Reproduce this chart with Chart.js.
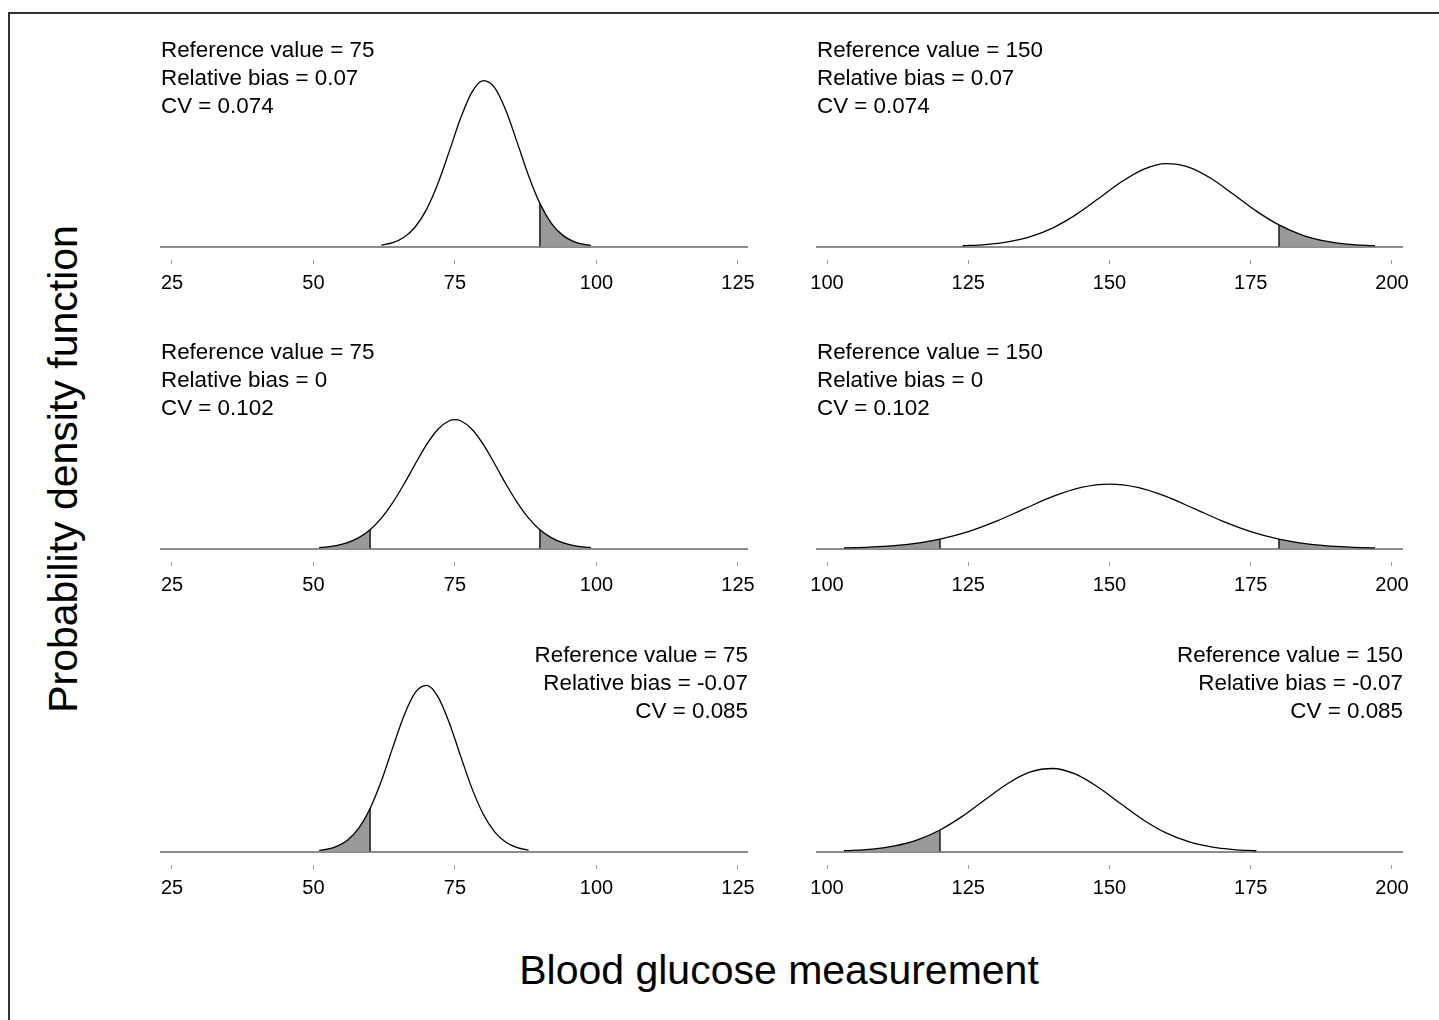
<!DOCTYPE html>
<html>
<head>
<meta charset="utf-8">
<script src="https://cdn.jsdelivr.net/npm/chart.js@4.4.1/dist/chart.umd.min.js"></script>
<style>
html,body{margin:0;padding:0;background:#fff;width:1439px;height:1020px;overflow:hidden;}
body{position:relative;font-family:"Liberation Sans",Arial,Helvetica,sans-serif;color:#000;}
#frame{position:absolute;left:8px;top:12px;width:1500px;height:1100px;border-top:2px solid #333;border-left:2px solid #333;box-sizing:border-box;}
.pc{position:absolute;}
#xt{position:absolute;left:0;top:950px;width:1558px;text-align:center;font-size:41px;line-height:41px;white-space:nowrap;}
#yt{position:absolute;left:63px;top:469px;font-size:41px;line-height:41px;white-space:nowrap;transform:translate(-50%,-50%) rotate(-90deg);}
</style>
</head>
<body>
<div id="frame"></div>
<div id="yt">Probability density function</div>
<div id="xt">Blood glucose measurement</div>
<script>
// ---- Data (density values along each curve) ----
const tlX = [62,64,66,68,70,72,74,76,78,80,82,84,86,88,90,92,94,96,98,99];
const tlY = [0.000598,0.001591,0.003776,0.008003,0.01515,0.02560,0.03861,0.05200,0.06252,0.06712,0.06433,0.05503,0.04204,0.02867,0.01745,0.009486,0.004604,0.001995,0.000771,0.000460];

const trX = [124,128,132,136,140,144,148,152,156,160,164,168,172,176,180,184,188,192,196,197];
const trY = [0.000299,0.000795,0.001888,0.004001,0.007575,0.01280,0.01930,0.02600,0.03126,0.03356,0.03216,0.02752,0.02102,0.01433,0.008727,0.004743,0.002302,0.000997,0.000386,0.000299];

const mlX = [51,52,54,56,58,60,62,64,66,68,70,72,74,75,76,78,80,82,84,86,88,90,92,94,96,98,99];
const mlY = [0.000380,0.000568,0.001205,0.002386,0.004414,0.007629,0.01231,0.01855,0.02610,0.03431,0.04212,0.04829,0.05171,0.05215,0.05171,0.04829,0.04212,0.03431,0.02610,0.01855,0.01231,0.007629,0.004414,0.002386,0.001205,0.000568,0.000380];

const mrX = [103,105,110,115,120,125,130,135,140,145,150,155,160,165,170,175,180,185,190,195,197];
const mrY = [0.000233,0.000345,0.000855,0.001905,0.003815,0.006863,0.01110,0.01612,0.02106,0.02472,0.026075,0.02472,0.02106,0.01612,0.01110,0.006863,0.003815,0.001905,0.000855,0.000345,0.000233];

const blX = [51,52,54,56,58,60,62,64,66,68,70,72,74,76,78,80,82,84,86,88];
const blY = [0.000453,0.000761,0.001974,0.004571,0.009441,0.01741,0.02863,0.04204,0.05509,0.06442,0.06723,0.06261,0.05205,0.03860,0.02556,0.01510,0.007960,0.003746,0.001573,0.000589];

const brX = [103,104,108,112,116,120,124,128,132,136,140,144,148,152,156,160,164,168,172,176];
const brY = [0.000295,0.000380,0.000987,0.002285,0.004720,0.008703,0.01431,0.02102,0.02754,0.03221,0.03361,0.03130,0.02602,0.01930,0.01278,0.007549,0.003980,0.001873,0.000786,0.000295];

const leftTicks = [25,50,75,100,125];
const rightTicks = [100,125,150,175,200];
const referenceValues = [75,150];
const relativeBiases = [0.07,0,-0.07];
const cvValues = [0.074,0.102,0.085];
const lowerLimits = [60,120];
const upperLimits = [90,180];

// ---- Layout ----
const FONT = '"Liberation Sans", Arial, Helvetica, sans-serif';
const PX_PER_UNIT = 2470;         // vertical pixels per density unit
const rowTops = [20,322,625];
const colDefs = [
  {left:130, width:648, xmin:22.88, xmax:126.77, ticks:leftTicks},
  {left:786, width:647, xmin:98.05, xmax:201.95, ticks:rightTicks}
];
const CANVAS_H = 282;
const series = [[ [tlX,tlY],[trX,trY] ], [ [mlX,mlY],[mrX,mrY] ], [ [blX,blY],[brX,brY] ]];

const notesPlugin = {
  id:'notes',
  afterDraw(chart){
    const o = chart.options.plugins.notes;
    if(!o) return;
    const ctx = chart.ctx;
    ctx.save();
    ctx.font = '22.4px ' + FONT;
    ctx.fillStyle = '#000';
    ctx.textBaseline = 'alphabetic';
    ctx.textAlign = o.align;
    const x = o.align === 'left' ? chart.chartArea.left + 1 : chart.chartArea.right;
    o.lines.forEach((t,i)=>{ ctx.fillText(t, x, o.baselines[i]); });
    ctx.restore();
  }
};

for(let r=0;r<3;r++){
  for(let c=0;c<2;c++){
    const col = colDefs[c];
    const [xs,ys] = series[r][c];
    const pts = xs.map((x,i)=>({x:x,y:ys[i]}));
    const lo = lowerLimits[c], hi = upperLimits[c];
    const datasets = [{
      data: pts, borderColor:'#000', borderWidth:1.3, pointRadius:0,
      cubicInterpolationMode:'monotone', fill:false
    }];
    const lowTail = pts.filter(p=>p.x<=lo);
    const highTail = pts.filter(p=>p.x>=hi);
    const edges = [];
    const tails = [];
    if(lowTail.length>=2){
      tails.push(lowTail);
      edges.push([{x:lo,y:0},{x:lo,y:lowTail[lowTail.length-1].y}]);
    }
    if(highTail.length>=2){
      tails.push(highTail);
      edges.push([{x:hi,y:0},{x:hi,y:highTail[0].y}]);
    }
    edges.forEach(e=>datasets.push({data:e,borderColor:'#000',borderWidth:1.3,pointRadius:0,tension:0,fill:false}));
    tails.forEach(t=>datasets.push({data:t,borderColor:'rgba(0,0,0,0)',borderWidth:0,pointRadius:0,
      cubicInterpolationMode:'monotone',fill:'origin',backgroundColor:'#999999'}));

    const wrap = document.createElement('div');
    wrap.className='pc';
    wrap.style.left = col.left+'px';
    wrap.style.top = rowTops[r]+'px';
    wrap.style.width = col.width+'px';
    wrap.style.height = CANVAS_H+'px';
    const cv = document.createElement('canvas');
    cv.width = col.width; cv.height = CANVAS_H;
    cv.style.width = col.width+'px'; cv.style.height = CANVAS_H+'px';
    wrap.appendChild(cv);
    document.body.appendChild(wrap);

    const lines = ['Reference value = ' + referenceValues[c],
                   'Relative bias = ' + String(relativeBiases[r]),
                   'CV = ' + String(cvValues[r])];
    const tickVals = col.ticks;

    new Chart(cv.getContext('2d'), {
      type:'line',
      data:{datasets:datasets},
      plugins:[notesPlugin],
      options:{
        responsive:false, animation:false, events:[], devicePixelRatio:1,
        layout:{padding:{left:30,right:30,top:10,bottom:0}},
        plugins:{
          legend:{display:false}, tooltip:{enabled:false},
          notes:{lines:lines, align: r===2 ? 'right':'left', baselines:[37,65,93]}
        },
        scales:{
          x:{
            type:'linear', min:col.xmin, max:col.xmax,
            afterBuildTicks:(s)=>{ s.ticks = tickVals.map(v=>({value:v})); },
            ticks:{font:{family:FONT,size:20},color:'#000',padding:7,maxRotation:0,autoSkip:false,
              callback:(v)=>String(v)},
            grid:{drawOnChartArea:false,drawTicks:true,tickLength:4,color:'#9a9a9a',lineWidth:1},
            border:{display:false}
          },
          y:{
            type:'linear', min:-13.5/PX_PER_UNIT, max:216.5/PX_PER_UNIT,
            afterBuildTicks:(s)=>{ s.ticks=[{value:0}]; },
            ticks:{display:false},
            grid:{drawTicks:false,color:'#8c8c8c',lineWidth:2},
            border:{display:false}
          }
        }
      }
    });
  }
}
</script>
</body>
</html>
